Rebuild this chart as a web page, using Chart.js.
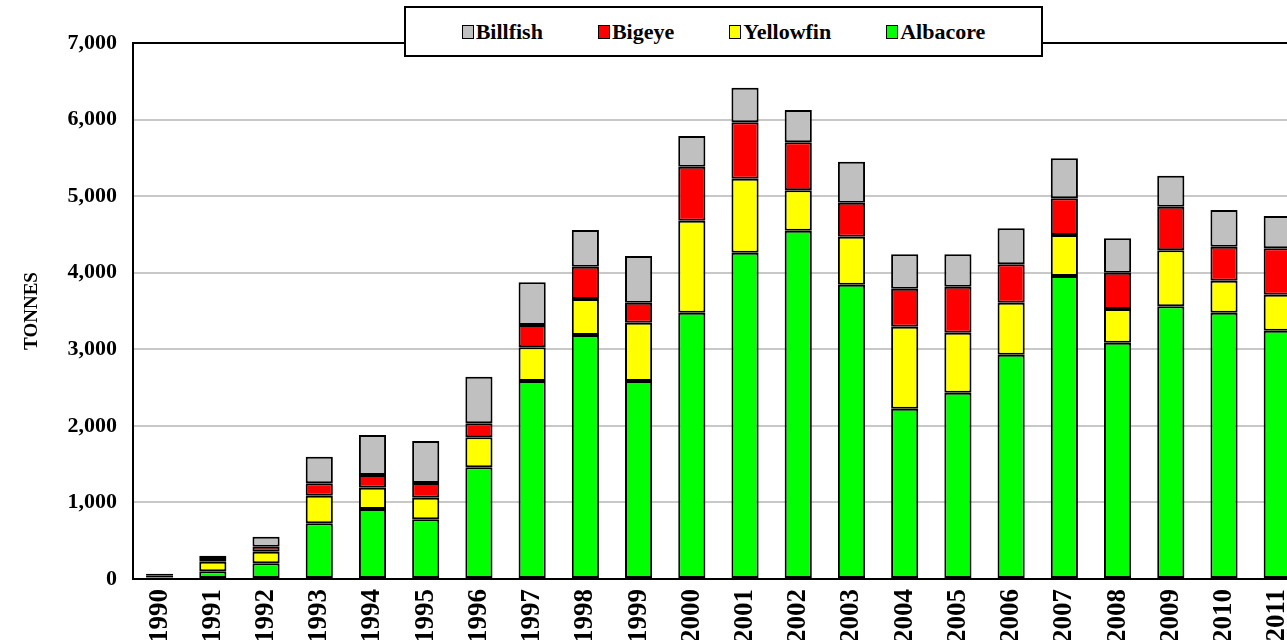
<!DOCTYPE html>
<html>
<head>
<meta charset="utf-8">
<title>Tonnes by species</title>
<script src="https://cdn.jsdelivr.net/npm/chart.js@4.4.1/dist/chart.umd.min.js"></script>
<style>
  html, body { margin: 0; padding: 0; background: #fff; }
  #wrap { position: relative; width: 1287px; height: 640px; overflow: hidden; }
  #chart { position: absolute; left: 0; top: 0; }
  #legend {
    position: absolute; left: 404px; top: 6px; width: 635px; height: 47px;
    border: 2px solid #000; background: #fff;
    display: flex; align-items: center; justify-content: center; gap: 55px;
    font: bold 22px "Liberation Serif", "Times New Roman", serif; color: #000;
  }
  .item { display: flex; align-items: center; }
  .sw { width: 10px; height: 12px; border: 1.5px solid #000; margin-right: 2px; }
</style>
</head>
<body>
<div id="wrap">
  <canvas id="chart" width="1320" height="670"></canvas>
  <div id="legend"></div>
</div>
<script>
var years = ['1990', '1991', '1992', '1993', '1994', '1995', '1996', '1997', '1998', '1999', '2000',
             '2001', '2002', '2003', '2004', '2005', '2006', '2007', '2008', '2009', '2010', '2011'];

var albacore  = [10, 100, 205, 727, 914, 780, 1459, 2586, 3187, 2586, 3478, 4262, 4549, 3844, 2225, 2433, 2930, 3957, 3086, 3561, 3478, 3243];
var yellowfin = [10, 125, 152, 361, 279, 282, 391, 440, 470, 762, 1202, 966, 527, 627, 1070, 784, 679, 536, 440, 732, 418, 470];
var bigeye    = [30, 50, 63, 162, 165, 192, 183, 291, 422, 261, 705, 736, 627, 444, 495, 601, 501, 479, 474, 569, 444, 605];
var billfish  = [20, 30, 132, 347, 523, 548, 607, 558, 479, 609, 401, 453, 422, 535, 450, 422, 470, 522, 450, 405, 479, 423];

var yTicks = [0, 1000, 2000, 3000, 4000, 5000, 6000, 7000];

var serif = '"Liberation Serif", "Times New Roman", serif';

function series(label, data, color) {
    return {
        label: label,
        data: data,
        backgroundColor: color,
        borderColor: '#000',
        borderWidth: 2,
        borderSkipped: false,
        categoryPercentage: 1,
        barPercentage: 0.51
    };
}

var datasets = [
    series('Albacore', albacore, '#00ff00'),
    series('Yellowfin', yellowfin, '#ffff00'),
    series('Bigeye', bigeye, '#ff0000'),
    series('Billfish', billfish, '#c0c0c0')
];

// legend box, top series first like the original
var legend = document.getElementById('legend');
datasets.slice().reverse().forEach(function (ds) {
    var item = document.createElement('div');
    item.className = 'item';
    var sw = document.createElement('span');
    sw.className = 'sw';
    sw.style.background = ds.backgroundColor;
    var txt = document.createElement('span');
    txt.textContent = ds.label;
    item.appendChild(sw);
    item.appendChild(txt);
    legend.appendChild(item);
});

// black frame round the plot area
var frame = {
    id: 'frame',
    afterDatasetsDraw: function (chart) {
        var a = chart.chartArea, ctx = chart.ctx;
        ctx.save();
        ctx.strokeStyle = '#000';
        ctx.lineWidth = 2;
        ctx.strokeRect(a.left, a.top, a.right - a.left, a.bottom - a.top);
        ctx.restore();
    }
};

new Chart(document.getElementById('chart'), {
    type: 'bar',
    data: { labels: years, datasets: datasets },
    plugins: [frame],
    options: {
        responsive: false,
        animation: false,
        layout: { padding: { left: 0, top: 43, right: 16, bottom: 0 } },
        plugins: {
            legend: { display: false },
            tooltip: { enabled: false }
        },
        scales: {
            x: {
                stacked: true,
                grid: { display: false, drawTicks: false },
                border: { display: true, color: '#000', width: 2 },
                ticks: {
                    autoSkip: false,
                    minRotation: 90,
                    maxRotation: 90,
                    padding: 10,
                    color: '#000',
                    font: { family: serif, size: 27, weight: 'bold' }
                },
                afterFit: function (scale) { scale.height = 91; }
            },
            y: {
                stacked: true,
                min: 0,
                max: 7000,
                afterBuildTicks: function (scale) {
                    scale.ticks = yTicks.map(function (v) { return { value: v }; });
                },
                grid: { color: '#c8c8c8', lineWidth: 2, drawTicks: false },
                border: { display: true, color: '#000', width: 2 },
                ticks: {
                    padding: 16,
                    color: '#000',
                    font: { family: serif, size: 22, weight: 'bold' },
                    callback: function (v) { return v.toLocaleString('en-US'); }
                },
                title: {
                    display: true,
                    text: 'TONNES',
                    color: '#000',
                    padding: { top: 21, bottom: 0 },
                    font: { family: serif, size: 19, weight: 'bold' }
                },
                afterFit: function (scale) { scale.width = 133; }
            }
        }
    }
});
</script>
</body>
</html>
